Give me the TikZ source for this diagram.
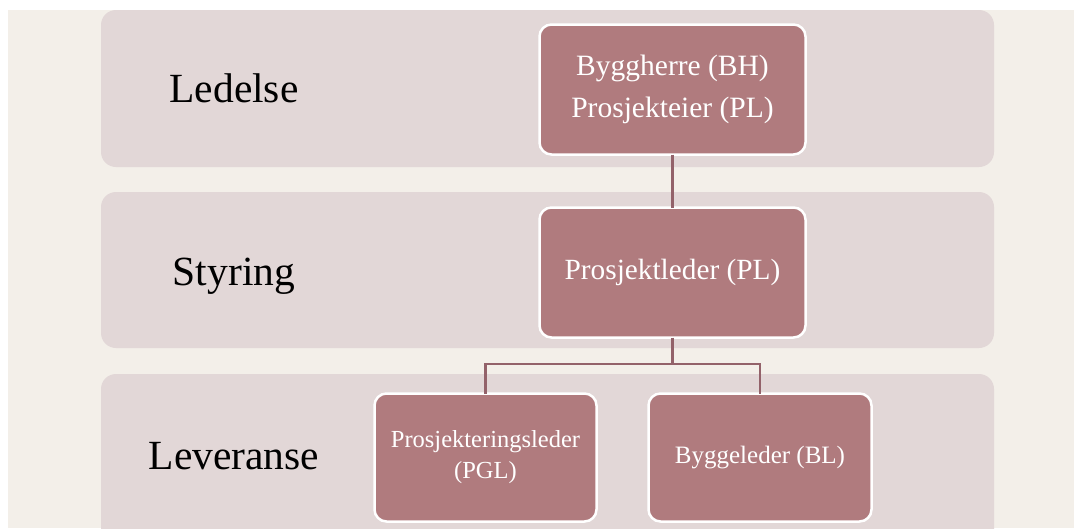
\documentclass[tikz,border=0pt]{standalone}
\usepackage{fontspec}
\setmainfont{Liberation Serif}
\definecolor{pagebg}{HTML}{F3EFE9}
\definecolor{bandbg}{HTML}{E2D7D7}
\definecolor{boxfill}{HTML}{B07B7E}
\definecolor{linecol}{HTML}{93626A}
\tikzset{
  band/.style={fill=bandbg, rounded corners=15pt},
  rolebox/.style={draw=white, line width=2.5pt, fill=boxfill, text=white,
    rounded corners=12pt, align=center, inner sep=0pt, outer sep=0pt},
  levelname/.style={anchor=base, font=\fontsize{41.5}{50}\selectfont},
  conn/.style={draw=linecol, line width=2.4pt}
}
\begin{document}
\begin{tikzpicture}[x=1pt, y=-1pt]
            \useasboundingbox (0,0) rectangle (1074,528);
            \clip (0,0) rectangle (1074,528);
            \fill[pagebg] (8,10) rectangle (1074,528);

            \fill[band] (101,10) rectangle (994,167);
            \fill[band] (101,192) rectangle (994,348);
            \fill[band] (101,374) rectangle (994,560);

            \node[levelname] (ledelse) at (234,102) {Ledelse};
            \node[levelname] (styring) at (234,285) {Styring};
            \node[levelname] (leveranse) at (234,469) {Leveranse};

            \node[rolebox, minimum width=266pt, minimum height=130pt,
                  font=\fontsize{29.5}{42}\selectfont] (bh) at (672.5,89.5)
                  {Byggherre (BH)\\Prosjekteier (PL)};
            \node[rolebox, minimum width=266pt, minimum height=130pt,
                  font=\fontsize{29.3}{34}\selectfont] (pl) at (672.5,272.5)
                  {Prosjektleder (PL)};
            \node[rolebox, minimum width=222pt, minimum height=128pt,
                  font=\fontsize{24.5}{31}\selectfont] (pgl) at (485.5,457.5)
                  {Prosjekteringsleder\\(PGL)};
            \node[rolebox, minimum width=223pt, minimum height=128pt,
                  font=\fontsize{25}{31}\selectfont] (bl) at (760,457.5)
                  {Byggeleder (BL)};

            \coordinate (split) at (672.5,364);

            \draw[conn] (bh) -- (pl);
            \draw[conn] (pl) -- (split) -| (pgl);
            \draw[conn] (split) -| (bl);
\end{tikzpicture}
\end{document}
